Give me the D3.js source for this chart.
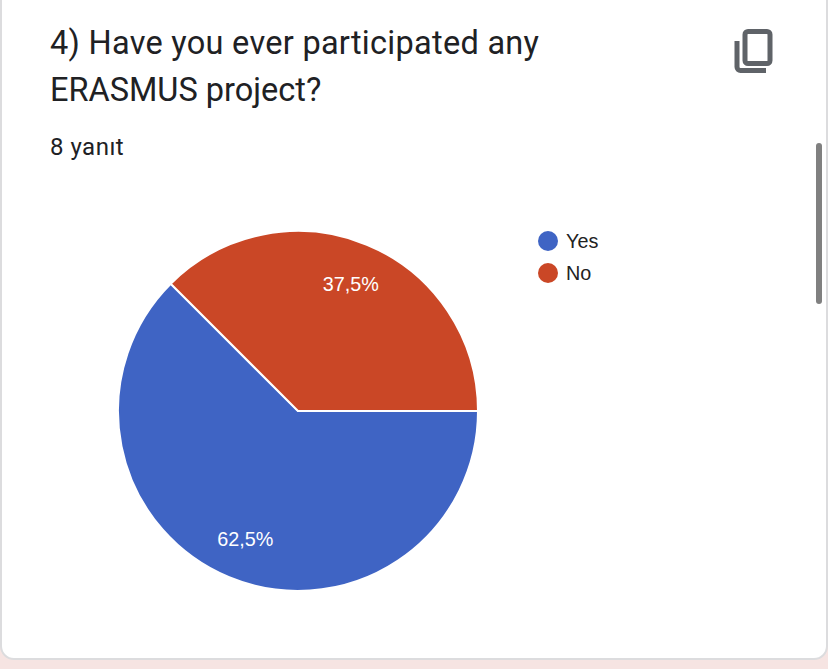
<!DOCTYPE html>
<html>
<head>
<meta charset="utf-8">
<script src="https://cdn.jsdelivr.net/npm/d3@7"></script>
<style>
    html, body { margin: 0; padding: 0; background: #fff; overflow: hidden; }
    svg { display: block; }
    text { font-family: Roboto, sans-serif; }
    .chart_label { font-family: "Liberation Sans", Arial, sans-serif; }
</style>
</head>
<body>
<svg id="chart" width="828" height="669"></svg>
<script>
const categories = ["Yes", "No"];
const values = [62.5, 37.5];
const value_labels = ["62,5%", "37,5%"];
const colors = ["#3f64c4", "#ca4726"];
const title_lines = ["4) Have you ever participated any", "ERASMUS project?"];
const subtitle = "8 yanıt";

let svg = d3.select("#chart");

// Page behind the card, then the card itself
svg.append("rect")
    .attr("width", 828)
    .attr("height", 669)
    .style("fill", "#f6e4e2");

svg.append("rect")
    .attr("x", 1)
    .attr("y", -20)
    .attr("width", 826)
    .attr("height", 679)
    .attr("rx", 13)
    .style("fill", "#fff")
    .style("stroke", "#dcdcde")
    .style("stroke-width", 2);

// Title
svg.selectAll(".title")
    .data(title_lines)
    .enter().append("text")
    .attr("class", "title")
    .attr("x", 50)
    .attr("y", function(d, i) { return 54 + i*47; })
    .style("font-size", "32.5px")
    .style("letter-spacing", function(d, i) { return i == 0 ? "0.28px" : "0"; })
    .style("fill", "#202124")
    .text(function(d) { return d; });

svg.append("text")
    .attr("x", 50)
    .attr("y", 155)
    .style("font-size", "24px")
    .style("letter-spacing", "0.5px")
    .style("fill", "#202124")
    .text(subtitle);

// Copy icon
let icon = svg.append("g")
    .style("fill", "none")
    .style("stroke", "#5f6368")
    .style("stroke-width", 5);

icon.append("rect")
    .attr("x", 745)
    .attr("y", 31.5)
    .attr("width", 25)
    .attr("height", 32)
    .attr("rx", 3);

icon.append("path")
    .attr("d", "M737 41V67a3.5 3.5 0 0 0 3.5 3.5H766");

// Scrollbar
svg.append("rect")
    .attr("x", 816)
    .attr("y", 143)
    .attr("width", 6)
    .attr("height", 161)
    .attr("rx", 3)
    .style("fill", "#808080");

// Pie, starting at 3 o'clock and running clockwise as in the forms chart
let pie = d3.pie()
    .sort(null)
    .startAngle(Math.PI/2)
    .endAngle(Math.PI/2 + 2*Math.PI);

let arc = d3.arc()
    .innerRadius(0)
    .outerRadius(180);

let label_arc = d3.arc()
    .innerRadius(138)
    .outerRadius(138);

let slices = svg.append("g")
    .attr("transform", "translate(298,411)")
    .selectAll(".slice")
    .data(pie(values))
    .enter().append("g")
    .attr("class", "slice");

slices.append("path")
    .attr("d", arc)
    .style("fill", function(d, i) { return colors[i]; })
    .style("stroke", "#fff")
    .style("stroke-width", 2);

slices.append("text")
    .attr("class", "chart_label")
    .attr("transform", function(d) { return "translate(" + label_arc.centroid(d) + ")"; })
    .attr("y", 2)
    .attr("text-anchor", "middle")
    .attr("dominant-baseline", "middle")
    .style("font-size", "19.8px")
    .style("fill", "#fff")
    .text(function(d, i) { return value_labels[i]; });

// Legend
let legend = svg.selectAll(".legend")
    .data(categories)
    .enter().append("g")
    .attr("class", "legend")
    .attr("transform", function(d, i) { return "translate(548," + (241 + i*32) + ")"; });

legend.append("circle")
    .attr("r", 10)
    .style("fill", function(d, i) { return colors[i]; });

legend.append("text")
    .attr("class", "chart_label")
    .attr("x", 18)
    .attr("y", 2)
    .attr("dominant-baseline", "middle")
    .style("font-size", "19.8px")
    .style("fill", "#222")
    .text(function(d) { return d; });
</script>
</body>
</html>
